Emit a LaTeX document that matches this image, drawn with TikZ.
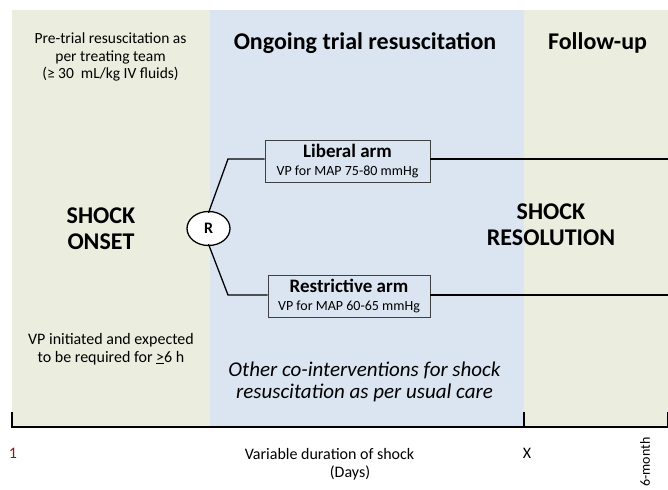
\documentclass[tikz,border=0pt]{standalone}
\usepackage{fontspec}
\setmainfont{Carlito}
\usetikzlibrary{shapes.geometric}
\definecolor{pgreen}{HTML}{EBEEDE}
\definecolor{pblue}{HTML}{DBE5F1}
\definecolor{numred}{HTML}{8B1A1A}
\tikzset{
  armbox/.style={draw=black!75, fill=pblue, line width=0.8pt, minimum width=165pt, minimum height=42pt, align=center, inner sep=0pt, font=\fontsize{14}{18}\selectfont},
  conn/.style={line width=1.3pt},
  smalltxt/.style={font=\fontsize{15.5}{17.5}\selectfont, align=center},
  bigtxt/.style={font=\fontsize{24}{26}\selectfont\bfseries, align=center},
}
\begin{document}
\begin{tikzpicture}[x=1pt,y=-1pt]
\useasboundingbox (0,0) rectangle (668,489);
% backgrounds
\fill[pgreen] (12,10) rectangle (210,427);
\fill[pblue] (210,10) rectangle (524,427);
\fill[pgreen] (524,10) rectangle (668,427);
% axis
\coordinate (a0) at (12,427);
\coordinate (a1) at (668,427);
\coordinate (t0) at (12,412);
\coordinate (tx) at (524,412);
\coordinate (txb) at (524,427);
\coordinate (t2) at (667.5,412);
\coordinate (t2b) at (667.5,427);
\draw[line width=1.8pt] (t0) -- (a0) -- (a1);
\draw[line width=1.8pt] (tx) -- (txb);
\draw[line width=1.8pt] (t2) -- (t2b);
% texts
\node[smalltxt] (pre) at (110.5,57) {Pre-trial resuscitation as\\per treating team\\(≥ 30~ mL/kg IV fluids)};
\node[font=\fontsize{24}{26}\selectfont\bfseries] (ong) at (365,43) {Ongoing trial resuscitation};
\node[font=\fontsize{24}{26}\selectfont\bfseries] (fol) at (597.5,43) {Follow-up};
\node[bigtxt] (onset) at (101,229) {SHOCK\\ONSET};
\node[bigtxt] (resol) at (551,225) {SHOCK\\RESOLUTION};
\node[font=\fontsize{16}{17.5}\selectfont, align=center] (vpi) at (111,349) {VP initiated and expected\\to be required for \underline{>}6 h};
\node[font=\fontsize{21}{22}\selectfont\itshape, align=center] (oth) at (364.5,382) {Other co-interventions for shock\\resuscitation as per usual care};
% R
\node[ellipse, draw, line width=1.3pt, fill=white, minimum width=43pt, minimum height=34pt, inner sep=0pt, font=\fontsize{16}{18}\selectfont\bfseries] (R) at (208.5,228.5) {R};
% arms
\node[armbox] (lib) at (347.5,161) {{\fontsize{19}{18}\selectfont\bfseries Liberal arm}\\VP for MAP 75-80 mmHg};
\node[armbox, minimum width=162pt] (res) at (349,296) {{\fontsize{19}{18}\selectfont\bfseries Restrictive arm}\\VP for MAP 60-65 mmHg};
\coordinate (le) at (668,159);
\coordinate (re) at (668,295);
\draw[conn] (R.north) ++(0,2) -- (228,159) -- (lib.west |- 0,159);
\draw[conn] (lib.east |- 0,159) -- (le);
\draw[conn] (R.south) ++(0,-2) -- (228,295) -- (res.west |- 0,295);
\draw[conn] (res.east |- 0,295) -- (re);
% bottom labels
\node[font=\fontsize{16}{18}\selectfont, text=numred] (one) at (13,453) {1};
\node[font=\fontsize{16}{18}\selectfont] (x) at (527,453) {X};
\node[font=\fontsize{16}{19}\selectfont] (dur) at (329.5,454) {Variable duration of shock};
\node[font=\fontsize{16}{19}\selectfont] (days) at (350,473) {(Days)};
\node[font=\fontsize{14}{16}\selectfont, rotate=90, anchor=east] (mon) at (645,434) {6-month};
\end{tikzpicture}
\end{document}
